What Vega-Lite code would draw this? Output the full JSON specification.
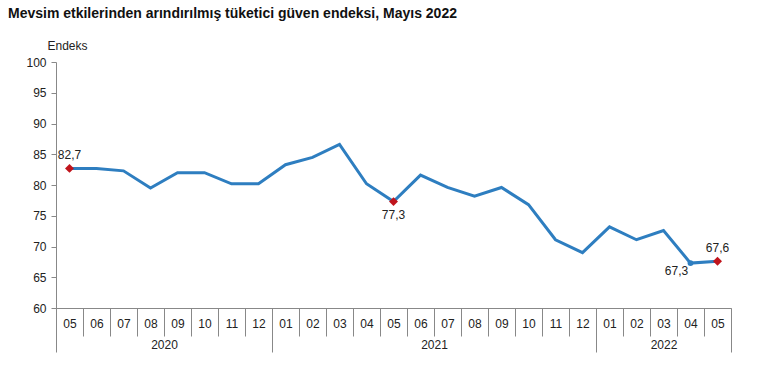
{
  "$schema": "https://vega.github.io/schema/vega-lite/v6.json",
  "width": 675,
  "height": 246,
  "autosize": {"type": "none"},
  "padding": {"left": 56, "top": 62, "right": 39, "bottom": 64},
  "background": "white",
  "config": {"view": {"stroke": null}, "font": "Liberation Sans"},
  "title": {
    "text": "Mevsim etkilerinden arındırılmış tüketici güven endeksi, Mayıs 2022",
    "anchor": "start",
    "frame": "group",
    "dx": -48,
    "offset": 18,
    "fontSize": 14,
    "fontWeight": "bold",
    "color": "#111111",
    "font": "Liberation Sans"
  },
  "data": {
    "values": [
      {"key": "2020-05", "value": 82.7, "label": "82,7"},
      {"key": "2020-06", "value": 82.7, "label": ""},
      {"key": "2020-07", "value": 82.3, "label": ""},
      {"key": "2020-08", "value": 79.5, "label": ""},
      {"key": "2020-09", "value": 82.0, "label": ""},
      {"key": "2020-10", "value": 82.0, "label": ""},
      {"key": "2020-11", "value": 80.2, "label": ""},
      {"key": "2020-12", "value": 80.2, "label": ""},
      {"key": "2021-01", "value": 83.3, "label": ""},
      {"key": "2021-02", "value": 84.5, "label": ""},
      {"key": "2021-03", "value": 86.6, "label": ""},
      {"key": "2021-04", "value": 80.2, "label": ""},
      {"key": "2021-05", "value": 77.3, "label": "77,3"},
      {"key": "2021-06", "value": 81.6, "label": ""},
      {"key": "2021-07", "value": 79.6, "label": ""},
      {"key": "2021-08", "value": 78.2, "label": ""},
      {"key": "2021-09", "value": 79.6, "label": ""},
      {"key": "2021-10", "value": 76.8, "label": ""},
      {"key": "2021-11", "value": 71.1, "label": ""},
      {"key": "2021-12", "value": 69.0, "label": ""},
      {"key": "2022-01", "value": 73.2, "label": ""},
      {"key": "2022-02", "value": 71.1, "label": ""},
      {"key": "2022-03", "value": 72.6, "label": ""},
      {"key": "2022-04", "value": 67.3, "label": "67,3"},
      {"key": "2022-05", "value": 67.6, "label": "67,6"}
    ]
  },
  "encoding": {
    "y": {
      "field": "value",
      "type": "quantitative",
      "scale": {"domain": [60, 100], "nice": false, "zero": false},
      "axis": {
        "title": "Endeks",
        "titleAngle": 0,
        "titleAlign": "left",
        "titleBaseline": "middle",
        "titleX": -9,
        "titleY": -17,
        "titleFontWeight": "normal",
        "titleFontSize": 12,
        "titleColor": "#222222",
        "values": [60, 65, 70, 75, 80, 85, 90, 95, 100],
        "grid": false,
        "tickSize": 5,
        "tickColor": "#888888",
        "domainColor": "#888888",
        "labelFontSize": 12,
        "labelColor": "#222222",
        "labelPadding": 5
      }
    }
  },
  "resolve": {"axis": {"x": "independent"}},
  "layer": [
    {
      "mark": {"type": "line", "color": "#2E7EC0", "strokeWidth": 3},
      "encoding": {
        "x": {
          "field": "key",
          "type": "ordinal",
          "scale": {"type": "band", "paddingInner": 0, "paddingOuter": 0},
          "axis": {
            "orient": "bottom",
            "title": null,
            "labelExpr": "substring(datum.label, 5, 7)",
            "labelAngle": 0,
            "tickBand": "extent",
            "tickSize": 28,
            "tickColor": "#888888",
            "domainColor": "#888888",
            "labelFontSize": 12,
            "labelColor": "#222222",
            "labelPadding": -18,
            "labelOverlap": false
          }
        }
      }
    },
    {
      "transform": [{"filter": "substring(datum.key, 5, 7) == '05'"}],
      "mark": {"type": "point", "shape": "diamond", "filled": true, "color": "#C0141C", "size": 80, "opacity": 1},
      "encoding": {
        "x": {
          "field": "key",
          "type": "ordinal",
          "axis": {
            "orient": "bottom",
            "title": null,
            "values": ["2020-05","2020-06","2020-07","2020-08","2020-09","2020-10","2020-11","2020-12","2021-01","2021-02","2021-03","2021-04","2021-05","2021-06","2021-07","2021-08","2021-09","2021-10","2021-11","2021-12","2022-01","2022-02","2022-03","2022-04","2022-05"],
            "labelExpr": "datum.value == '2020-08' ? '2020' : datum.value == '2021-06' ? '2021' : datum.value == '2022-03' ? '2022' : ''",
            "labelOffset": {"condition": {"test": "datum.value == '2022-03'", "value": 0}, "value": 13.5},
            "labelAngle": 0,
            "tickBand": "extent",
            "tickSize": 44,
            "tickColor": "#888888",
            "tickOpacity": {"condition": {"test": "datum.extra || indexof(['2020-12','2021-12','2022-05'], datum.value) >= 0", "value": 1}, "value": 0},
            "domain": false,
            "labelFontSize": 12,
            "labelColor": "#222222",
            "labelPadding": -13,
            "labelOverlap": false
          }
        }
      }
    },
    {
      "transform": [{"filter": "datum.key == '2022-04'"}],
      "mark": {"type": "point", "shape": "circle", "filled": true, "color": "#2E7EC0", "size": 35, "opacity": 1},
      "encoding": {"x": {"field": "key", "type": "ordinal", "axis": null}}
    },
    {
      "transform": [{"filter": "datum.key == '2020-05' || datum.key == '2022-05'"}],
      "mark": {"type": "text", "baseline": "bottom", "dy": -6, "fontSize": 12, "color": "#222222"},
      "encoding": {"x": {"field": "key", "type": "ordinal", "axis": null}, "text": {"field": "label"}}
    },
    {
      "transform": [{"filter": "datum.key == '2021-05'"}],
      "mark": {"type": "text", "baseline": "top", "dy": 8, "fontSize": 12, "color": "#222222"},
      "encoding": {"x": {"field": "key", "type": "ordinal", "axis": null}, "text": {"field": "label"}}
    },
    {
      "transform": [{"filter": "datum.key == '2022-04'"}],
      "mark": {"type": "text", "baseline": "top", "dx": -14, "dy": 3, "fontSize": 12, "color": "#222222"},
      "encoding": {"x": {"field": "key", "type": "ordinal", "axis": null}, "text": {"field": "label"}}
    }
  ]
}
